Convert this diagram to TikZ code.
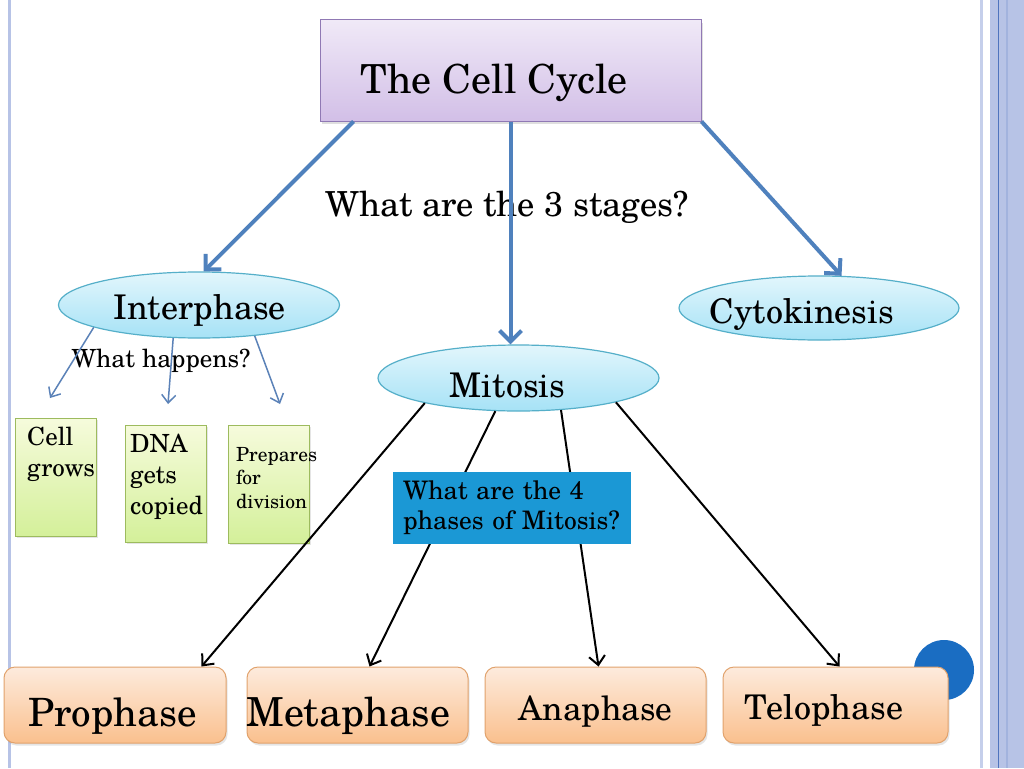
\documentclass[tikz,border=0pt]{standalone}
\usepackage{fontspec}
\setmainfont{TeX Gyre Schola}
\usepackage{xcolor}
\usepackage{tikz}
\usetikzlibrary{arrows.meta, positioning, shapes.geometric, shadows}
\definecolor{titletop}{HTML}{F0E9F7}
\definecolor{titlebot}{HTML}{D2BFE7}
\definecolor{titleedge}{HTML}{9079B4}
\definecolor{ovaltop}{HTML}{E2F6FC}
\definecolor{ovalbot}{HTML}{A6E2F6}
\definecolor{ovaledge}{HTML}{55AFC9}
\definecolor{notetop}{HTML}{F6FBDC}
\definecolor{notebot}{HTML}{D4F09A}
\definecolor{noteedge}{HTML}{9DBB5E}
\definecolor{phasetop}{HTML}{FDEBDD}
\definecolor{phasebot}{HTML}{FAC08E}
\definecolor{phaseedge}{HTML}{E1A26C}
\definecolor{questblue}{HTML}{1B98D5}
\definecolor{dotblue}{HTML}{1A6DC2}
\definecolor{stageblue}{HTML}{4F81BD}
\definecolor{noteblue}{HTML}{5B82B8}
\definecolor{framelight}{HTML}{B7C3E6}
\definecolor{framedark}{HTML}{4F74BE}
\tikzset{
    titlebox/.style={
        rectangle,
        draw=titleedge,
        line width=1pt,
        top color=titletop,
        bottom color=titlebot,
        minimum width=381pt,
        minimum height=101pt,
        inner sep=0pt,
        drop shadow={shadow xshift=2pt, shadow yshift=-3pt, opacity=0.25}
    },
    stageoval/.style={
        ellipse,
        draw=ovaledge,
        line width=1.2pt,
        top color=ovaltop,
        bottom color=ovalbot,
        minimum width=281pt,
        minimum height=66pt,
        inner sep=0pt
    },
    stagetext/.style={
        inner sep=0pt,
        font=\fontsize{34}{40}\selectfont
    },
    notebox/.style={
        rectangle,
        draw=noteedge,
        line width=1pt,
        top color=notetop,
        bottom color=notebot,
        minimum width=81pt,
        minimum height=118pt,
        inner sep=0pt,
        drop shadow={shadow xshift=1.5pt, shadow yshift=-2pt, opacity=0.2}
    },
    notetext/.style={
        anchor=north west,
        inner sep=0pt,
        align=left,
        font=\fontsize{25}{31}\selectfont
    },
    phasebox/.style={
        rectangle,
        rounded corners=11pt,
        draw=phaseedge,
        line width=1pt,
        top color=phasetop,
        bottom color=phasebot,
        minimum width=221pt,
        minimum height=76pt,
        inner sep=0pt,
        drop shadow={shadow xshift=1.5pt, shadow yshift=-2.5pt, opacity=0.2}
    },
    phasetext/.style={
        inner sep=0pt
    },
    questbox/.style={
        rectangle,
        fill=questblue,
        minimum width=238pt,
        minimum height=72pt,
        text width=218pt,
        inner xsep=10pt,
        align=left,
        font=\fontsize{25.5}{30}\selectfont
    },
    stageline/.style={
        -{Straight Barb[length=11pt, width=22pt]},
        line width=4pt,
        draw=stageblue
    },
    noteline/.style={
        -{Straight Barb[length=8pt, width=14pt]},
        line width=1.5pt,
        draw=noteblue
    },
    phaseline/.style={
        -{Straight Barb[length=9pt, width=16pt]},
        line width=2pt,
        draw=black
    }
}

\begin{document}
\begin{tikzpicture}[x=1pt, y=-1pt]
    \path[fill=white, use as bounding box] (0,0) rectangle (1024,768);

    % slide frame
    \draw[framelight, line width=3pt] (9,0) -- (9,768);
    \draw[framelight!80, line width=3pt] (981.5,0) -- (981.5,768);
    \fill[framelight] (990,0) rectangle (1024,768);
    \draw[framedark, line width=1pt] (998,0) -- (998,768);
    \draw[framelight!80!framedark, line width=2pt] (1007,0) -- (1007,768);

    % top
    \node[titlebox] (title) at (510.5,70.5) {};
    \node[font=\fontsize{40}{46}\selectfont] (titletext) at (494,83) {The Cell Cycle};
    \node[font=\fontsize{34.5}{40}\selectfont] (stagesq) at (507,207) {What are the 3 stages?};

    % the three stages
    \node[stageoval] (interphase) at (199,305) {};
    \node[stageoval, minimum width=280pt, minimum height=64pt] (cyto) at (819,308) {};
    \node[stageoval] (mitosis) at (518.5,378) {};
    \node[stagetext] (interphasetext) at (199.5,310) {Interphase};
    \node[stagetext] (cytotext) at (802,314) {Cytokinesis};
    \node[stagetext] (mitosistext) at (507.5,385) {Mitosis};

    \draw[stageline] (title.198) -- (interphase.82);
    \draw[stageline] (title.south) -- (title.south |- mitosis.north);
    \draw[stageline] (title.south east) -- (cyto.55);

    % interphase
    \node[font=\fontsize{25}{30}\selectfont] (happens) at (161,361) {What happens?};
    \coordinate (growtip) at (50,398);
    \coordinate (dnatip) at (168,404);
    \coordinate (preptip) at (280,404);
    \draw[noteline] (interphase.192) -- (growtip);
    \draw[noteline] (interphase.232) -- (dnatip);
    \draw[noteline] (interphase.331) -- (preptip);

    \node[notebox] (grow) at (55.5,477) {};
    \node[notebox, minimum height=117pt] (dna) at (165.5,483.5) {};
    \node[notebox] (prep) at (268.5,484) {};
    \node[notetext] (growtext) at (27,427) {Cell\\grows};
    \node[notetext] (dnatext) at (130,434) {DNA\\gets\\copied};
    \node[notetext, font=\fontsize{19.5}{23.5}\selectfont] (preptext) at (236,447) {Prepares\\for\\division};

    % phases of mitosis
    \node[circle, fill=dotblue, minimum size=60pt, inner sep=0pt] (dot) at (944,670) {};
    \node[phasebox, minimum width=222pt] (prophase) at (115,705) {};
    \node[phasebox] (metaphase) at (357.5,705) {};
    \node[phasebox] (anaphase) at (595.5,705) {};
    \node[phasebox, minimum width=225pt] (telophase) at (835.5,705) {};
    \node[phasetext, font=\fontsize{39}{44}\selectfont] (prophasetext) at (112.5,716) {Prophase};
    \node[phasetext, font=\fontsize{40}{44}\selectfont] (metaphasetext) at (348.5,716) {Metaphase};
    \node[phasetext, font=\fontsize{33.5}{40}\selectfont] (anaphasetext) at (595.5,712) {Anaphase};
    \node[phasetext, font=\fontsize{34}{40}\selectfont] (telophasetext) at (824,710) {Telophase};

    \draw[phaseline] (mitosis.195) -- ([xshift=-25pt]prophase.north east);
    \draw[phaseline] (mitosis.235) -- ([xshift=12pt]metaphase.north);
    \draw[phaseline] (mitosis.323) -- ([xshift=3pt]anaphase.north);
    \draw[phaseline] (mitosis.346) -- ([xshift=4pt]telophase.north);

    \node[questbox] (phasesq) at (512,508) {What are the 4\\phases of Mitosis?};
\end{tikzpicture}
\end{document}
